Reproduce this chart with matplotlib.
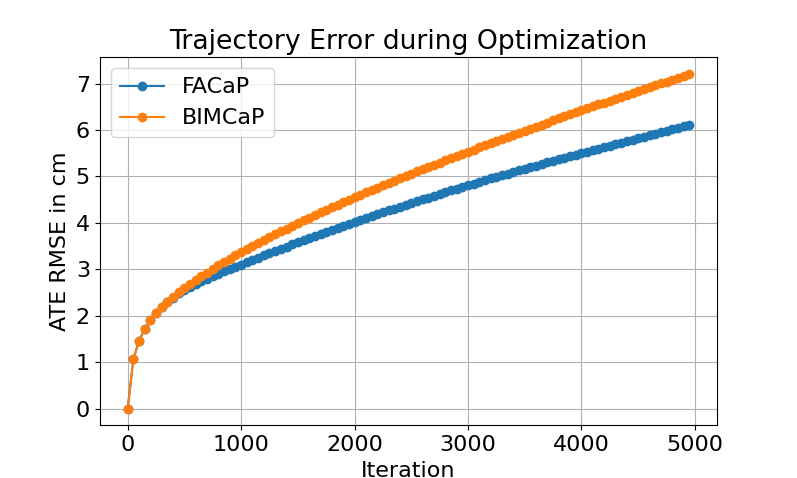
import matplotlib
matplotlib.use("Agg")
import matplotlib.pyplot as plt

iterations = list(range(0, 5000, 50))

# values, one per 50 iterations
facap = [
    0.000, 1.070, 1.460, 1.710, 1.900, 2.050, 2.180, 2.290, 2.390, 2.480,
    2.560, 2.623, 2.683, 2.741, 2.797, 2.851, 2.903, 2.954, 3.004, 3.053,
    3.101, 3.151, 3.200, 3.250, 3.298, 3.347, 3.395, 3.442, 3.489, 3.536,
    3.582, 3.628, 3.673, 3.718, 3.763, 3.807, 3.851, 3.894, 3.937, 3.979,
    4.021, 4.063, 4.104, 4.145, 4.186, 4.226, 4.267, 4.307, 4.347, 4.387,
    4.426, 4.466, 4.505, 4.544, 4.583, 4.621, 4.660, 4.698, 4.736, 4.773,
    4.811, 4.847, 4.884, 4.920, 4.956, 4.991, 5.027, 5.062, 5.097, 5.132,
    5.166, 5.201, 5.235, 5.269, 5.303, 5.336, 5.370, 5.403, 5.436, 5.468,
    5.501, 5.534, 5.567, 5.600, 5.632, 5.665, 5.697, 5.730, 5.762, 5.794,
    5.826, 5.858, 5.890, 5.922, 5.954, 5.985, 6.017, 6.048, 6.079, 6.111,
]

bimcap = [
    0.000, 1.070, 1.460, 1.710, 1.900, 2.050, 2.190, 2.305, 2.410, 2.505,
    2.595, 2.680, 2.764, 2.847, 2.929, 3.008, 3.085, 3.160, 3.232, 3.303,
    3.371, 3.437, 3.501, 3.565, 3.629, 3.692, 3.754, 3.815, 3.876, 3.936,
    3.995, 4.054, 4.112, 4.169, 4.226, 4.282, 4.337, 4.392, 4.446, 4.499,
    4.552, 4.604, 4.656, 4.707, 4.758, 4.809, 4.859, 4.909, 4.959, 5.009,
    5.058, 5.107, 5.155, 5.204, 5.252, 5.299, 5.346, 5.393, 5.440, 5.486,
    5.532, 5.578, 5.623, 5.669, 5.714, 5.759, 5.804, 5.849, 5.894, 5.939,
    5.983, 6.028, 6.072, 6.116, 6.160, 6.204, 6.248, 6.292, 6.335, 6.379,
    6.422, 6.465, 6.507, 6.549, 6.591, 6.633, 6.675, 6.716, 6.758, 6.799,
    6.840, 6.881, 6.922, 6.962, 7.003, 7.043, 7.083, 7.123, 7.163, 7.203,
]

plt.rcParams['font.size'] = 16

fig = plt.figure(figsize=(7.97, 4.78), dpi=100)
plt.plot(iterations, facap, 'o-', label='FACaP')
plt.plot(iterations, bimcap, 'o-', label='BIMCaP')
plt.xlabel('Iteration')
plt.ylabel('ATE RMSE in cm')
plt.title('Trajectory Error during Optimization')
plt.grid(True)
plt.legend()
plt.savefig('out.png', dpi=100)
